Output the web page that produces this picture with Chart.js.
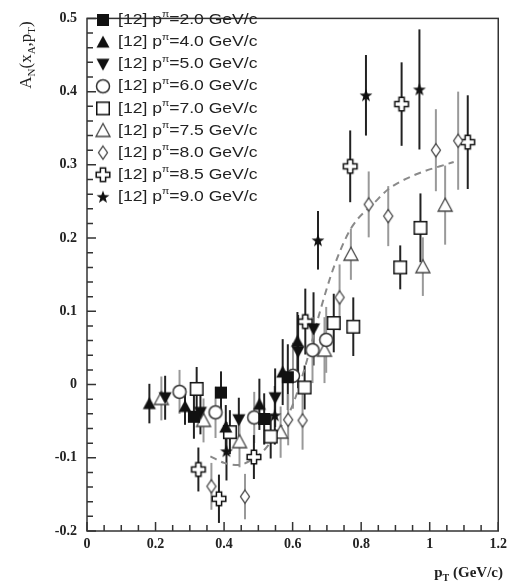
<!DOCTYPE html>
<html>
<head>
<meta charset="utf-8">
<script src="https://cdn.jsdelivr.net/npm/chart.js@4.4.1/dist/chart.umd.min.js"></script>
<style>
html, body { margin: 0; padding: 0; background: #fff; }
</style>
</head>
<body>
<canvas id="myChart" width="512" height="585"></canvas>
<script>
// beam momenta of the nine data sets [12]
var momenta = ['2.0', '4.0', '5.0', '6.0', '7.0', '7.5', '8.0', '8.5', '9.0'];

var x20 = [0.312, 0.391, 0.517, 0.586];
var y20 = [-0.044, -0.011, -0.047, 0.010];
var e20 = [0.030, 0.029, 0.035, 0.045];

var x40 = [0.182, 0.286, 0.405, 0.503, 0.571, 0.614];
var y40 = [-0.026, -0.030, -0.058, -0.027, 0.017, 0.059];
var e40 = [0.027, 0.025, 0.030, 0.035, 0.045, 0.040];

var x50 = [0.228, 0.331, 0.443, 0.549, 0.616, 0.661];
var y50 = [-0.018, -0.038, -0.048, -0.018, 0.045, 0.076];
var e50 = [0.030, 0.030, 0.030, 0.040, 0.050, 0.050];

var x60 = [0.270, 0.375, 0.488, 0.601, 0.658, 0.698];
var y60 = [-0.010, -0.038, -0.045, 0.012, 0.047, 0.061];
var e60 = [0.030, 0.035, 0.035, 0.045, 0.045, 0.045];

var x70 = [0.320, 0.417, 0.536, 0.635, 0.720, 0.777, 0.914, 0.973];
var y70 = [-0.006, -0.065, -0.071, -0.004, 0.084, 0.079, 0.160, 0.214];
var e70 = [0.030, 0.030, 0.030, 0.030, 0.040, 0.040, 0.030, 0.047];

var x75 = [0.217, 0.340, 0.445, 0.565, 0.693, 0.770, 0.980, 1.045];
var y75 = [-0.019, -0.049, -0.078, -0.065, 0.047, 0.178, 0.161, 0.245];
var e75 = [0.030, 0.030, 0.035, 0.035, 0.045, 0.035, 0.040, 0.054];

var x80 = [0.363, 0.461, 0.587, 0.629, 0.737, 0.822, 0.879, 1.018, 1.083];
var y80 = [-0.139, -0.153, -0.048, -0.049, 0.119, 0.246, 0.230, 0.320, 0.333];
var e80 = [0.032, 0.031, 0.035, 0.040, 0.045, 0.045, 0.041, 0.056, 0.067];

var x85 = [0.325, 0.385, 0.487, 0.637, 0.768, 0.918, 1.111];
var y85 = [-0.116, -0.156, -0.099, 0.086, 0.298, 0.383, 0.331];
var e85 = [0.030, 0.033, 0.030, 0.045, 0.049, 0.057, 0.064];

var x90 = [0.407, 0.548, 0.674, 0.814, 0.970];
var y90 = [-0.091, -0.042, 0.197, 0.395, 0.403];
var e90 = [0.040, 0.040, 0.040, 0.055, 0.082];

// dashed curve
var curveX = [0.36, 0.40, 0.44, 0.48, 0.52, 0.56, 0.60, 0.64, 0.68, 0.72, 0.77, 0.84, 0.88, 0.95, 1.07];
var curveY = [-0.098, -0.107, -0.110, -0.103, -0.088, -0.062, -0.028, 0.030, 0.100, 0.160, 0.213, 0.249, 0.267, 0.285, 0.304];

// marker pictures
function newMarker(kind) {
  var c = document.createElement('canvas');
  c.width = 18;
  c.height = 18;
  var g = c.getContext('2d');
  g.lineWidth = 1.5;
  g.strokeStyle = '#111';
  g.fillStyle = '#fff';
  g.beginPath();
  if (kind == 'sqFill') {
    g.fillStyle = '#111';
    g.fillRect(3, 3, 12, 12);
  } else if (kind == 'triUp') {
    g.fillStyle = '#111';
    g.moveTo(9, 2.5); g.lineTo(15.5, 14.5); g.lineTo(2.5, 14.5); g.closePath(); g.fill();
  } else if (kind == 'triDown') {
    g.fillStyle = '#111';
    g.moveTo(9, 15.5); g.lineTo(15.5, 3.5); g.lineTo(2.5, 3.5); g.closePath(); g.fill();
  } else if (kind == 'circ') {
    g.strokeStyle = '#333';
    g.arc(9, 9, 6.5, 0, Math.PI * 2); g.fill(); g.stroke();
  } else if (kind == 'sqOpen') {
    g.rect(2.75, 2.75, 12.5, 12.5); g.fill(); g.stroke();
  } else if (kind == 'triOpen') {
    g.strokeStyle = '#444';
    g.lineWidth = 1.3;
    g.moveTo(9, 2); g.lineTo(16, 15); g.lineTo(2, 15); g.closePath(); g.fill(); g.stroke();
  } else if (kind == 'diam') {
    g.strokeStyle = '#444';
    g.lineWidth = 1.3;
    g.moveTo(9, 2.5); g.lineTo(13.5, 9); g.lineTo(9, 15.5); g.lineTo(4.5, 9); g.closePath(); g.fill(); g.stroke();
  } else if (kind == 'cross') {
    var a = 2.6, b = 6.8;
    g.moveTo(9 - a, 9 - b); g.lineTo(9 + a, 9 - b); g.lineTo(9 + a, 9 - a); g.lineTo(9 + b, 9 - a);
    g.lineTo(9 + b, 9 + a); g.lineTo(9 + a, 9 + a); g.lineTo(9 + a, 9 + b); g.lineTo(9 - a, 9 + b);
    g.lineTo(9 - a, 9 + a); g.lineTo(9 - b, 9 + a); g.lineTo(9 - b, 9 - a); g.lineTo(9 - a, 9 - a);
    g.closePath(); g.fill(); g.stroke();
  } else if (kind == 'star') {
    g.fillStyle = '#111';
    for (var i = 0; i < 10; i++) {
      var r = i % 2 == 0 ? 6.8 : 2.8;
      var ang = -Math.PI / 2 + i * Math.PI / 5;
      var px = 9 + r * Math.cos(ang), py = 9.5 + r * Math.sin(ang);
      if (i == 0) g.moveTo(px, py); else g.lineTo(px, py);
    }
    g.closePath(); g.fill();
  }
  return c;
}

var kinds = ['sqFill', 'triUp', 'triDown', 'circ', 'sqOpen', 'triOpen', 'diam', 'cross', 'star'];
var barColors = ['#222', '#222', '#222', '#999', '#222', '#999', '#999', '#222', '#222'];
var allX = [x20, x40, x50, x60, x70, x75, x80, x85, x90];
var allY = [y20, y40, y50, y60, y70, y75, y80, y85, y90];
var allE = [e20, e40, e50, e60, e70, e75, e80, e85, e90];
var markers = kinds.map(newMarker);

function toPoints(xs, ys) {
  return xs.map(function(v, i) { return { x: v, y: ys[i] }; });
}

var datasets = [];
momenta.forEach(function(m, k) {
  datasets.push({
    label: '[12] p=' + m + ' GeV/c',
    data: toPoints(allX[k], allY[k]),
    pointStyle: markers[k],
    pointRadius: 9,
    pointHoverRadius: 9,
    errors: allE[k],
    barColor: barColors[k],
    order: 0,
    clip: false
  });
});
datasets.push({
  type: 'line',
  label: 'curve',
  data: toPoints(curveX, curveY),
  borderColor: '#8a8a8a',
  borderWidth: 2,
  borderDash: [7, 5],
  pointRadius: 0,
  cubicInterpolationMode: 'monotone',
  fill: false,
  order: 1
});

var errorBars = {
  id: 'errorBars',
  beforeDatasetsDraw: function(chart) {
    var ctx = chart.ctx, xs = chart.scales.x, ys = chart.scales.y;
    ctx.save();
    ctx.lineWidth = 2;
    chart.data.datasets.forEach(function(ds) {
      if (!ds.errors) return;
      ctx.strokeStyle = ds.barColor;
      ds.data.forEach(function(p, i) {
        var px = xs.getPixelForValue(p.x);
        ctx.beginPath();
        ctx.moveTo(px, ys.getPixelForValue(p.y - ds.errors[i]));
        ctx.lineTo(px, ys.getPixelForValue(p.y + ds.errors[i]));
        ctx.stroke();
      });
    });
    ctx.restore();
  }
};

var frame = {
  id: 'frame',
  afterDraw: function(chart) {
    var ctx = chart.ctx, a = chart.chartArea, xs = chart.scales.x, ys = chart.scales.y;
    ctx.save();
    ctx.strokeStyle = '#333';
    ctx.lineWidth = 1.5;
    ctx.strokeRect(a.left, a.top, a.right - a.left, a.bottom - a.top);
    ctx.beginPath();
    for (var i = 0; i <= 24; i++) {
      var px = xs.getPixelForValue(i * 0.05);
      ctx.moveTo(px, a.bottom);
      ctx.lineTo(px, a.bottom - (i % 4 == 0 ? 9 : 6));
    }
    for (var j = 0; j <= 35; j++) {
      var py = ys.getPixelForValue(-0.2 + j * 0.02);
      ctx.moveTo(a.left, py);
      ctx.lineTo(a.left + (j % 5 == 0 ? 9 : 6), py);
    }
    ctx.stroke();

    // legend (text is a bit wide in the original)
    ctx.fillStyle = '#222';
    ctx.textBaseline = 'middle';
    momenta.forEach(function(m, k) {
      var ly = 20 + k * 22.1;
      ctx.drawImage(markers[k], 103 - 9, ly - 9);
      ctx.save();
      ctx.translate(118, ly);
      ctx.scale(1.17, 1);
      ctx.font = '15px "Liberation Sans", Arial, sans-serif';
      var t1 = '[12] p';
      ctx.fillText(t1, 0, 0);
      var w = ctx.measureText(t1).width;
      ctx.font = '9px "Liberation Sans", Arial, sans-serif';
      ctx.fillText('\u03c0', w, -5);
      var w2 = ctx.measureText('\u03c0').width;
      ctx.font = '15px "Liberation Sans", Arial, sans-serif';
      ctx.fillText('=' + m + ' GeV/c', w + w2, 0);
      ctx.restore();
    });

    // y title
    ctx.save();
    ctx.translate(26, 55);
    ctx.rotate(-Math.PI / 2);
    var parts = [['A', 17, 0], ['N', 11, 4], ['(x', 17, 0], ['A', 11, 4], [',p', 17, 0], ['T', 11, 4], [')', 17, 0]];
    var total = 0;
    parts.forEach(function(p) {
      ctx.font = p[1] + 'px "Liberation Serif", "Times New Roman", serif';
      total += ctx.measureText(p[0]).width;
    });
    var cx = -total / 2;
    ctx.textBaseline = 'alphabetic';
    parts.forEach(function(p) {
      ctx.font = p[1] + 'px "Liberation Serif", "Times New Roman", serif';
      ctx.fillText(p[0], cx, 5 + p[2]);
      cx += ctx.measureText(p[0]).width;
    });
    ctx.restore();

    // x title
    ctx.textBaseline = 'alphabetic';
    ctx.textAlign = 'right';
    ctx.font = 'bold 15px "Liberation Serif", "Times New Roman", serif';
    ctx.fillText(' (GeV/c)', 503, 577);
    var wt = ctx.measureText(' (GeV/c)').width;
    ctx.font = 'bold 10px "Liberation Serif", "Times New Roman", serif';
    ctx.fillText('T', 503 - wt, 581);
    var wT = ctx.measureText('T').width;
    ctx.font = 'bold 15px "Liberation Serif", "Times New Roman", serif';
    ctx.fillText('p', 503 - wt - wT, 577);
    ctx.restore();
  }
};

function tickText(v) {
  var r = Math.round(v * 10) / 10;
  return r == 0 ? '0' : String(r);
}

var tickFont = { family: '"Liberation Serif", "Times New Roman", serif', weight: 'bold', size: 14 };

var ctx = document.getElementById('myChart');
var myChart = new Chart(ctx, {
  type: 'scatter',
  data: { datasets: datasets },
  plugins: [errorBars, frame],
  options: {
    responsive: false,
    animation: false,
    layout: { padding: { left: 0, right: 9, top: 15, bottom: 0 } },
    plugins: { legend: { display: false }, tooltip: { enabled: false } },
    scales: {
      x: {
        type: 'linear', min: 0, max: 1.2,
        ticks: { stepSize: 0.2, font: tickFont, color: '#222', padding: 5, callback: tickText },
        grid: { display: false, drawTicks: false },
        border: { display: false },
        afterFit: function(s) { s.height = 54; }
      },
      y: {
        type: 'linear', min: -0.2, max: 0.5,
        ticks: { stepSize: 0.1, font: tickFont, color: '#222', padding: 10, callback: tickText },
        grid: { display: false, drawTicks: false },
        border: { display: false },
        afterFit: function(s) { s.width = 87; }
      }
    }
  }
});
</script>
</body>
</html>
